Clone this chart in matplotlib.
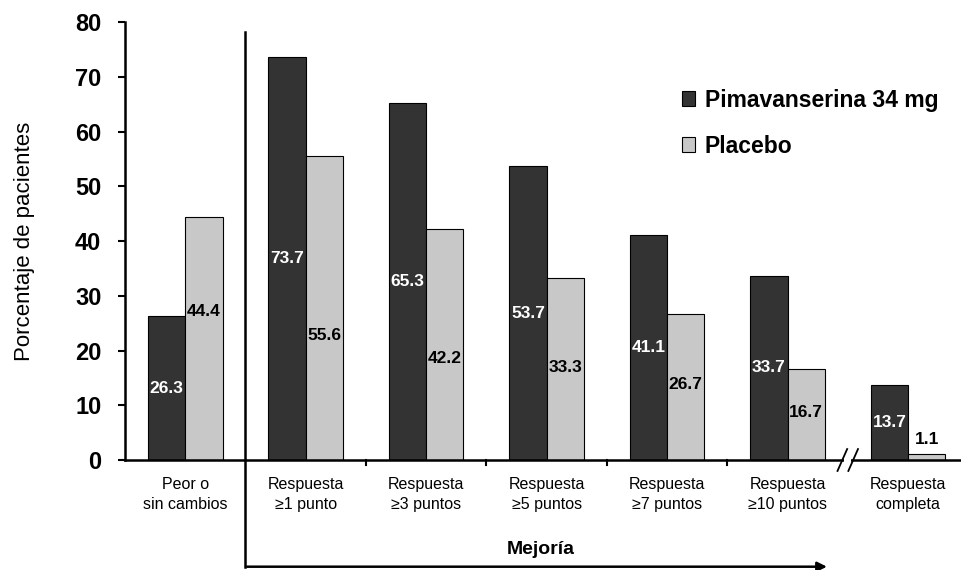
import matplotlib
matplotlib.use("Agg")
import matplotlib.pyplot as plt
from matplotlib.patches import Patch

categories = ["Peor o\nsin cambios", "Respuesta\n≥1 punto", "Respuesta\n≥3 puntos",
              "Respuesta\n≥5 puntos", "Respuesta\n≥7 puntos", "Respuesta\n≥10 puntos",
              "Respuesta\ncompleta"]
pima = [26.3, 73.7, 65.3, 53.7, 41.1, 33.7, 13.7]
placebo = [44.4, 55.6, 42.2, 33.3, 26.7, 16.7, 1.1]
series_names = ["Pimavanserina 34 mg", "Placebo"]
yticks = [0, 10, 20, 30, 40, 50, 60, 70, 80]

# label vertical placement (fraction of bar height) for placebo labels
plac_label_frac = [0.61, 0.41, 0.44, 0.51, 0.52, 0.52, None]

dark = "#333333"
light = "#c8c8c8"

plt.rcParams['font.family'] = ['Liberation Sans', 'DejaVu Sans']

fig = plt.figure(figsize=(9.61, 5.70), dpi=100)
ax = fig.add_axes([0.130, 0.193, 0.870, 0.768])

w = 0.31
x = list(range(len(categories)))
ax.bar([i - w / 2 for i in x], pima, width=w, color=dark, edgecolor="black", linewidth=0.8)
ax.bar([i + w / 2 for i in x], placebo, width=w, color=light, edgecolor="black", linewidth=0.8)

lab_font = dict(fontsize=12.5, fontweight="bold")
for i, v in enumerate(pima):
    ax.text(i - w / 2, v / 2, f"{v}", ha="center", va="center", color="white", **lab_font)
for i, v in enumerate(placebo):
    f = plac_label_frac[i]
    if f is None:
        ax.text(i + w / 2, v + 2.7, f"{v}", ha="center", va="center", color="black", **lab_font)
    else:
        ax.text(i + w / 2, v * f, f"{v}", ha="center", va="center", color="black", **lab_font)

ax.set_xlim(-0.5, 6.44)
ax.set_ylim(0, 80)
ax.set_yticks(yticks)
ax.set_yticklabels([str(t) for t in yticks], fontsize=17, fontweight="bold")
ax.tick_params(axis="y", direction="out", length=5, width=1.5, pad=12)

ax.set_xticks(x)
ax.set_xticklabels(categories, fontsize=11.5, linespacing=1.45)
ax.tick_params(axis="x", length=0, pad=12)
for b in [1.5, 2.5, 3.5, 4.5]:
    ax.plot([b, b], [0, -1.0], color="black", lw=1.5, clip_on=False)

for s in ["top", "right"]:
    ax.spines[s].set_visible(False)
ax.spines["left"].set_linewidth(1.8)
ax.spines["bottom"].set_linewidth(1.8)

ax.set_ylabel("Porcentaje de pacientes", fontsize=16, labelpad=29)

# break marks
for dx in [-0.045, 0.045]:
    ax.plot([5.5 + dx - 0.04, 5.5 + dx + 0.04], [-2.0, 2.0], color="black", lw=1.3, clip_on=False)
ax.fill_between([5.47, 5.53], [-0.4, -0.4], [0.4, 0.4], color="white", zorder=3, clip_on=False, linewidth=0)

# "Mejoría" bracket
ax.plot([0.5, 0.5], [78.2, -19.5], color="black", lw=1.8, clip_on=False)
ax.annotate("", xy=(5.35, -19.5), xytext=(0.49, -19.5), xycoords="data",
            arrowprops=dict(arrowstyle="-|>", color="black", lw=1.8, mutation_scale=14),
            annotation_clip=False)
ax.text(2.95, -16.3, "Mejoría", ha="center", va="center", fontsize=14, fontweight="bold")

handles = [Patch(facecolor=dark, edgecolor="black", linewidth=0.8),
           Patch(facecolor=light, edgecolor="black", linewidth=0.8)]
leg = ax.legend(handles, series_names, loc="upper left", bbox_to_anchor=(0.647, 0.885),
                frameon=False, prop=dict(size=16.5, weight="bold"), handlelength=0.55,
                handleheight=0.6, handletextpad=0.45, labelspacing=1.0, borderpad=0.2)

fig.savefig("out.png", dpi=100)
